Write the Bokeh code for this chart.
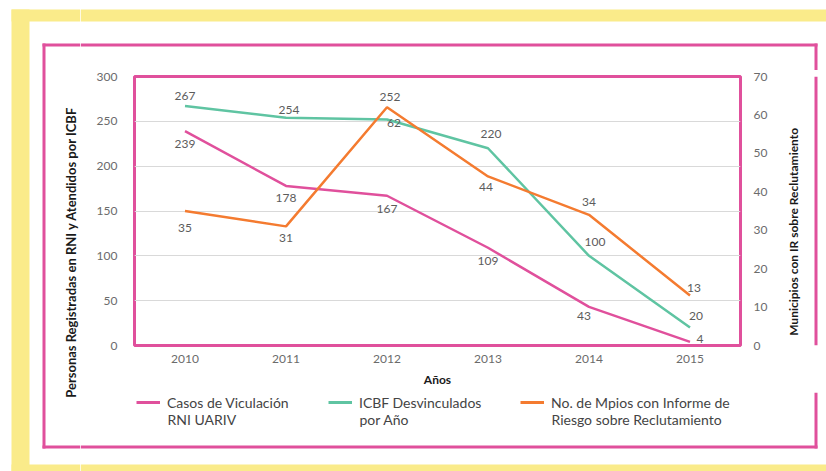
import math
from bokeh.plotting import figure
from bokeh.layouts import row, column
from bokeh.models import (Range1d, LinearAxis, FixedTicker, ColumnDataSource, LabelSet,
                          Legend, LegendItem, Label)
from bokeh.core.properties import value
from bokeh.embed import file_html
from bokeh.resources import INLINE

# ---------------- data ----------------
years = ["2010", "2011", "2012", "2013", "2014", "2015"]
casos_rni = [239, 178, 167, 109, 43, 4]          # Casos de Viculación RNI UARIV (left axis)
icbf_desv = [267, 254, 252, 220, 100, 20]        # ICBF Desvinculados por Año (left axis)
mpios_ir = [35, 31, 62, 44, 34, 13]              # No. de Mpios con Informe de Riesgo (right axis)
left_ticks = [0, 50, 100, 150, 200, 250, 300]
right_ticks = [0, 10, 20, 30, 40, 50, 60, 70]
series_line1 = ["Casos de Viculación", "ICBF Desvinculados", "No. de Mpios con Informe de"]
series_line2 = ["RNI UARIV", "por Año", "Riesgo sobre Reclutamiento"]
left_title = "Personas Registradas en RNI y Atendidos  por ICBF"
right_title = "Municipios con IR sobre Reclutamiento"
x_title = "Años"

# ---------------- styles ----------------
FONT = "Lato"
PINK = "#E0509C"
GREEN = "#5FC4A2"
ORANGE = "#F47B30"
YELLOW = "#FAEB8A"
TXT = "#5c5c5c"
TICK = "#6b6b6b"
DARK = "#1a1a1a"

# data-label offsets in px (styles)
casos_dx = [0, 0, 0, 0, -5, 10]
casos_dy = [-13, -12, -13, -13, -9, 3]
icbf_dx = [0, 3, 3, 3, 6, 6]
icbf_dy = [10, 8, 23, 14, 14, 12]
mpios_dx = [0, 0, 7, -2, 0, 4]
mpios_dy = [-17, -12, -16, -11, 13, 8]


def blank(w, h):
    f = figure(width=w, height=h, x_range=Range1d(0, w), y_range=Range1d(h, 0),
               min_border=0, x_axis_location=None, y_axis_location=None,
               toolbar_location=None, output_backend="svg")
    f.outline_line_color = None
    f.grid.visible = False
    f.background_fill_color = "white"
    f.border_fill_color = "white"
    return f


def box(f, l, r, t, b, color):
    f.quad(left=[l], right=[r], top=[t], bottom=[b], fill_color=color, line_color=None)


# ---------------- main chart ----------------
M = figure(width=696, height=322, x_range=years, y_range=Range1d(0, 300),
           output_backend="svg", toolbar_location=None,
           min_border_left=54, min_border_right=36, min_border_top=6, min_border_bottom=47)
M.extra_y_ranges = {"right": Range1d(0, 70)}
M.background_fill_color = "white"
M.border_fill_color = "white"
M.outline_line_color = PINK
M.outline_line_width = 3

M.xgrid.visible = False
M.ygrid.ticker = FixedTicker(ticks=left_ticks)
M.ygrid.grid_line_color = "#D9D9D9"
M.yaxis.ticker = FixedTicker(ticks=left_ticks)
right_axis = LinearAxis(y_range_name="right", ticker=FixedTicker(ticks=right_ticks))
M.add_layout(right_axis, "right")

for ax in [M.xaxis[0], M.yaxis[0], right_axis]:
    ax.axis_line_color = None
    ax.major_tick_line_color = None
    ax.minor_tick_line_color = None
    ax.major_label_text_font = FONT
    ax.major_label_text_font_size = "12px"
    ax.major_label_text_color = TICK
M.yaxis[0].major_label_standoff = 11
right_axis.major_label_standoff = 7
M.xaxis[0].major_label_standoff = 3
M.xaxis[0].axis_label = x_title
M.xaxis[0].axis_label_text_font = FONT
M.xaxis[0].axis_label_text_font_style = "bold"
M.xaxis[0].axis_label_text_font_size = "12px"
M.xaxis[0].axis_label_text_color = DARK
M.xaxis[0].axis_label_standoff = 6

M.line(years, casos_rni, line_color=PINK, line_width=2.5)
M.line(years, icbf_desv, line_color=GREEN, line_width=2.5)
M.line(years, mpios_ir, line_color=ORANGE, line_width=2.5, y_range_name="right")


def labels(vals, dx, dy, rname="default"):
    src = ColumnDataSource(dict(x=years, y=vals, t=[str(v) for v in vals], dx=dx, dy=dy))
    M.add_layout(LabelSet(x="x", y="y", text="t", source=src, x_offset="dx", y_offset="dy",
                          text_align="center", text_baseline="middle",
                          text_font=value(FONT), text_font_size=value("12px"),
                          text_color=TXT, y_range_name=rname))


labels(casos_rni, casos_dx, casos_dy)
labels(icbf_desv, icbf_dx, icbf_dy)
labels(mpios_ir, mpios_dx, mpios_dy, "right")

# ---------------- left strip (frame pieces + left title) ----------------
L = blank(80, 471)
box(L, 11, 80, 9, 21, YELLOW)
box(L, 11, 29, 9, 471, YELLOW)
box(L, 11, 80, 464, 471, YELLOW)
box(L, 42, 45, 43, 448, PINK)
box(L, 42, 80, 43, 46, PINK)
box(L, 42, 80, 445, 448, PINK)
L.add_layout(Label(x=70, y=250, text=left_title, angle=math.pi / 2,
                   text_align="center", text_baseline="middle", text_font=FONT,
                   text_font_style="bold", text_font_size="13px", text_color=DARK))

# ---------------- top strip ----------------
T = blank(746, 70)
box(T, 0, 746, 9, 21, YELLOW)
box(T, 0, 737, 43, 46, PINK)
box(T, 734, 737, 43, 70, PINK)

# ---------------- right strip (right title) ----------------
R = blank(50, 322)
box(R, 38, 41, 0, 322, PINK)
R.add_layout(Label(x=17, y=186, text=right_title, angle=math.pi / 2,
                   text_align="center", text_baseline="middle", text_font=FONT,
                   text_font_style="bold", text_font_size="12px", text_color=DARK))

# ---------------- bottom strip (legend) ----------------
B = blank(746, 79)
box(B, 0, 737, 53, 56, PINK)
box(B, 734, 737, 0, 56, PINK)
box(B, 0, 746, 72, 79, YELLOW)

LEG_X, LEG_Y = 56, 59
GLYPH_W, STANDOFF, LABEL_W, SPACING = 24, 7, 155, 6
colors = [PINK, GREEN, ORANGE]
items = []
for name, c in zip(series_line1, colors):
    r = B.line(x=[0.0], y=[float("nan")], line_color=c, line_width=3)
    items.append(LegendItem(label=name, renderers=[r]))
legend = Legend(items=items, orientation="horizontal", location=(LEG_X, LEG_Y))
legend.label_text_font = FONT
legend.label_text_font_size = "14px"
legend.label_text_color = "#444444"
legend.glyph_width = GLYPH_W
legend.glyph_height = 20
legend.label_height = 20
legend.label_standoff = STANDOFF
legend.label_width = LABEL_W
legend.spacing = SPACING
legend.padding = 0
legend.margin = 0
legend.border_line_color = None
legend.background_fill_alpha = 0
B.add_layout(legend, "center")

pitch = GLYPH_W + STANDOFF + LABEL_W + SPACING
for i, txt in enumerate(series_line2):
    B.add_layout(Label(x=LEG_X + GLYPH_W + STANDOFF + i * pitch, y=27, text=txt,
                       text_align="left", text_baseline="middle", text_font=FONT,
                       text_font_size="14px", text_color="#444444"))

root = row(L, column(T, row(M, R), B))
open("out.html", "w").write(file_html(root, INLINE))
